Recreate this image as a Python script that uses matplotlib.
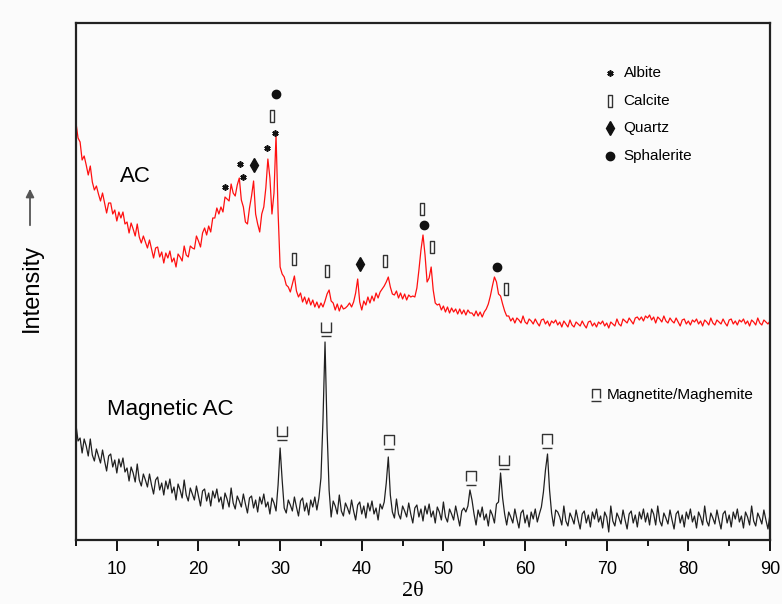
import numpy as np
import matplotlib
matplotlib.use("Agg")
import matplotlib.pyplot as plt
from matplotlib.path import Path

# ---------------- data (0.25 deg step from 5 to 90) ----------------
two_theta_start = 5.0
two_theta_step = 0.25

ac_intensity = [
    417, 402, 398, 380,   # 5
    384, 375, 365, 374,   # 6
    358, 350, 354, 346,   # 7
    339, 347, 337, 327,   # 8
    337, 337, 326, 330,   # 9
    319, 328, 322, 328,   # 10
    316, 318, 307, 317,   # 11
    311, 304, 316, 303,   # 12
    297, 304, 298, 292,   # 13
    300, 291, 282, 292,   # 14
    293, 283, 288, 277,   # 15
    287, 282, 289, 278,   # 16
    282, 273, 286, 283,   # 17
    279, 294, 285, 283,   # 18
    294, 292, 291, 304,   # 19
    299, 293, 307, 312,   # 20
    305, 314, 308, 322,   # 21
    322, 332, 326, 333,   # 22
    328, 343, 341, 339,   # 23
    356, 347, 344, 355,   # 24
    362, 340, 333, 318,   # 25
    316, 332, 344, 359,   # 26
    326, 316, 308, 326,   # 27
    333, 352, 381, 362,   # 28
    326, 347, 405, 328,   # 29
    273, 266, 263, 255,   # 30
    253, 248, 256, 264,   # 31
    249, 243, 247, 238,   # 32
    243, 236, 242, 235,   # 33
    240, 233, 238, 232,   # 34
    237, 233, 239, 246,   # 35
    250, 239, 237, 230,   # 36
    236, 229, 235, 231,   # 37
    232, 234, 237, 233,   # 38
    238, 247, 261, 238,   # 39
    230, 239, 235, 243,   # 40
    237, 244, 239, 247,   # 41
    242, 248, 251, 254,   # 42
    258, 263, 253, 246,   # 43
    245, 249, 242, 247,   # 44
    241, 246, 240, 245,   # 45
    243, 244, 243, 252,   # 46
    270, 290, 305, 285,   # 47
    258, 262, 273, 250,   # 48
    237, 235, 236, 230,   # 49
    234, 228, 233, 227,   # 50
    232, 228, 231, 226,   # 51
    231, 226, 230, 225,   # 52
    230, 227, 227, 224,   # 53
    229, 224, 228, 223,   # 54
    228, 231, 236, 244,   # 55
    254, 263, 258, 246,   # 56
    244, 236, 229, 224,   # 57
    224, 219, 222, 217,   # 58
    222, 220, 217, 224,   # 59
    218, 216, 221, 219,   # 60
    216, 221, 217, 214,   # 61
    220, 221, 216, 219,   # 62
    214, 219, 217, 220,   # 63
    215, 218, 213, 219,   # 64
    216, 213, 220, 215,   # 65
    213, 218, 216, 214,   # 66
    219, 215, 212, 218,   # 67
    219, 214, 217, 213,   # 68
    218, 216, 219, 214,   # 69
    217, 212, 218, 216,   # 70
    214, 221, 216, 214,   # 71
    221, 219, 217, 222,   # 72
    219, 216, 222, 223,   # 73
    220, 223, 219, 224,   # 74
    222, 225, 220, 223,   # 75
    217, 223, 221, 218,   # 76
    224, 219, 217, 222,   # 77
    219, 217, 222, 218,   # 78
    214, 220, 221, 216,   # 79
    219, 215, 220, 218,   # 80
    221, 216, 219, 214,   # 81
    220, 218, 215, 222,   # 82
    217, 215, 220, 218,   # 83
    216, 221, 217, 214,   # 84
    220, 221, 216, 219,   # 85
    215, 220, 218, 221,   # 86
    216, 219, 214, 220,   # 87
    218, 215, 222, 217,   # 88
    215, 220, 218, 216,   # 89
    219,                  # 90
]

mag_intensity = [
    115, 99, 102, 87,     # 5
    101, 94, 84, 101,     # 6
    85, 79, 91, 84,       # 7
    77, 90, 79, 69,       # 8
    84, 86, 73, 80,       # 9
    67, 81, 73, 82,       # 10
    68, 72, 59, 73,       # 11
    67, 58, 76, 60,       # 12
    54, 66, 60, 53,       # 13
    66, 55, 46, 60,       # 14
    63, 50, 57, 45,       # 15
    59, 51, 61, 47,       # 16
    53, 40, 56, 50,       # 17
    42, 60, 45, 39,       # 18
    52, 46, 40, 54,       # 19
    44, 34, 49, 51,       # 20
    39, 47, 34, 49,       # 21
    42, 51, 38, 43,       # 22
    31, 47, 41, 33,       # 23
    52, 37, 31, 44,       # 24
    39, 33, 46, 36,       # 25
    27, 42, 44, 32,       # 26
    40, 28, 43, 36,       # 27
    46, 33, 38, 26,       # 28
    42, 37, 29, 55,       # 29
    92, 60, 32, 27,       # 30
    40, 35, 29, 43,       # 31
    33, 24, 39, 42,       # 32
    29, 37, 25, 40,       # 33
    33, 43, 30, 42,       # 34
    62, 120, 198, 110,    # 35
    50, 23, 39, 34,       # 36
    26, 45, 29, 24,       # 37
    37, 32, 26, 40,       # 38
    29, 20, 35, 38,       # 39
    26, 34, 22, 37,       # 40
    29, 39, 26, 32,       # 41
    20, 36, 31, 38,       # 42
    57, 83, 45, 28,       # 43
    22, 41, 26, 21,       # 44
    34, 29, 23, 37,       # 45
    26, 17, 32, 35,       # 46
    23, 31, 19, 34,       # 47
    26, 36, 23, 29,       # 48
    17, 33, 28, 20,       # 49
    38, 23, 18, 31,       # 50
    26, 20, 34, 24,       # 51
    14, 29, 32, 28,       # 52
    34, 50, 40, 26,       # 53
    15, 30, 23, 33,       # 54
    20, 26, 14, 30,       # 55
    25, 17, 36, 38,       # 56
    67, 42, 26, 15,       # 57
    28, 23, 17, 31,       # 58
    21, 12, 27, 30,       # 59
    17, 25, 13, 28,       # 60
    21, 31, 18, 26,       # 61
    33, 48, 70, 86,       # 62
    50, 27, 14, 30,       # 63
    28, 23, 15, 34,       # 64
    19, 14, 27, 22,       # 65
    16, 30, 20, 11,       # 66
    26, 29, 17, 25,       # 67
    13, 28, 21, 31,       # 68
    18, 24, 12, 28,       # 69
    23, 8, 34, 19,        # 70
    14, 27, 22, 16,       # 71
    30, 20, 11, 26,       # 72
    29, 17, 25, 13,       # 73
    28, 21, 31, 18,       # 74
    27, 15, 31, 26,       # 75
    15, 34, 19, 14,       # 76
    27, 22, 16, 30,       # 77
    20, 11, 26, 29,       # 78
    17, 25, 13, 28,       # 79
    21, 31, 18, 24,       # 80
    12, 28, 23, 15,       # 81
    34, 19, 14, 27,       # 82
    22, 16, 30, 20,       # 83
    11, 26, 29, 17,       # 84
    25, 13, 28, 21,       # 85
    31, 18, 24, 12,       # 86
    28, 23, 15, 34,       # 87
    19, 14, 27, 22,       # 88
    16, 30, 20, 11,       # 89
    26,                   # 90
]

# phase marker positions (2theta, intensity)
albite_x = [23.25, 25.1, 25.5, 28.4, 29.4]
albite_y = [353, 376, 363, 392, 407]
calcite_x = [29.0, 31.7, 35.7, 42.8, 47.4, 48.6, 57.7]
calcite_y = [424, 281, 269, 279, 331, 293, 251]
quartz_x = [26.8, 39.8]
quartz_y = [375, 276]
sphalerite_x = [29.5, 47.6, 56.6]
sphalerite_y = [446, 315, 273]
magcup_x = [30.2, 35.6, 57.4]
magcup_y = [107, 211, 78]
magcap_x = [43.3, 53.4, 62.7]
magcap_y = [98, 62, 99]

legend_labels = ["Albite", "Calcite", "Quartz", "Sphalerite"]
mag_label = "Magnetite/Maghemite"
xticks = [10, 20, 30, 40, 50, 60, 70, 80, 90]

# ---------------- figure ----------------
plt.rcParams['font.family'] = ['Liberation Sans', 'DejaVu Sans']
fig = plt.figure(figsize=(7.82, 6.04), dpi=100, facecolor='#fbfbfb')
ax = fig.add_axes([76 / 782, 1 - 540 / 604, (770 - 76) / 782, (540 - 23) / 604])
ax.set_facecolor('#fbfbfb')

x_ac = two_theta_start + two_theta_step * np.arange(len(ac_intensity))
x_mag = two_theta_start + two_theta_step * np.arange(len(mag_intensity))

ax.plot(x_ac, ac_intensity, color='#ff1010', lw=0.9)
ax.plot(x_mag, mag_intensity, color='#202020', lw=0.9)

ax.set_xlim(5, 90)
ax.set_ylim(0, 517)
ax.set_yticks([])
ax.set_xticks(xticks)
ax.set_xticks(np.arange(5, 91, 5), minor=True)
ax.tick_params(axis='x', which='major', direction='out', length=8, width=1.3,
               labelsize=13, pad=7)
ax.tick_params(axis='x', which='minor', direction='out', length=4.5, width=1.3)
for s in ax.spines.values():
    s.set_linewidth(1.6)
    s.set_color('#222222')

# custom marker shapes
rect_marker = Path([(-0.3, -1), (0.3, -1), (0.3, 1), (-0.3, 1), (-0.3, -1)],
                   [Path.MOVETO, Path.LINETO, Path.LINETO, Path.LINETO, Path.CLOSEPOLY])
cup_marker = Path([(-0.4, 0.6), (-0.4, -0.25), (0.4, -0.25), (0.4, 0.6),
                   (-0.45, -0.6), (0.45, -0.6)],
                  [Path.MOVETO, Path.LINETO, Path.LINETO, Path.LINETO,
                   Path.MOVETO, Path.LINETO])
cap_marker = Path([(-0.4, -0.3), (-0.4, 0.6), (0.4, 0.6), (0.4, -0.3),
                   (-0.45, -0.6), (0.45, -0.6)],
                  [Path.MOVETO, Path.LINETO, Path.LINETO, Path.LINETO,
                   Path.MOVETO, Path.LINETO])

sty_albite = dict(marker=(6, 2, 0), ms=4.5, mew=1.2, color='#111111', ls='none')
sty_calcite = dict(marker=rect_marker, ms=9, mew=1.0, mec='#333333', mfc='white', ls='none')
sty_quartz = dict(marker='d', ms=7, color='#111111', ls='none')
sty_sphal = dict(marker='o', ms=6, color='#111111', ls='none')
sty_cup = dict(marker=cup_marker, ms=10, mew=1.0, mec='#333333', mfc='none', ls='none')
sty_cap = dict(marker=cap_marker, ms=10, mew=1.0, mec='#333333', mfc='none', ls='none')

ax.plot(albite_x, albite_y, **sty_albite)
ax.plot(calcite_x, calcite_y, **sty_calcite)
ax.plot(quartz_x, quartz_y, **sty_quartz)
ax.plot(sphalerite_x, sphalerite_y, **sty_sphal)
ax.plot(magcup_x, magcup_y, **sty_cup)
ax.plot(magcap_x, magcap_y, **sty_cap)

# legend (manual)
leg_rows = [0.903, 0.849, 0.797, 0.743]
leg_styles = [sty_albite, sty_calcite, sty_quartz, sty_sphal]
for yy, lab, st in zip(leg_rows, legend_labels, leg_styles):
    ax.plot([0.769], [yy], transform=ax.transAxes, clip_on=False, **st)
    ax.text(0.789, yy, lab, transform=ax.transAxes, fontsize=11, va='center', ha='left')
sty_cap_leg = dict(sty_cap, ms=9)
ax.plot([(596 - 76) / 694], [(540 - 395) / 517], transform=ax.transAxes, **sty_cap_leg)
ax.text((607 - 76) / 694, (540 - 395) / 517, mag_label, transform=ax.transAxes,
        fontsize=11, va='center', ha='left')

# sample labels
ax.text(10.4, 364, "AC", fontsize=16, va='center', ha='left')
ax.text(8.8, 130, "Magnetic AC", fontsize=16, va='center', ha='left')

# axis labels
fig.text(32 / 782, 1 - 288 / 604, "Intensity", rotation=90, fontsize=17,
         ha='center', va='center')
ax.annotate('', xy=(30 / 782, 1 - 186 / 604), xytext=(30 / 782, 1 - 228 / 604),
            xycoords='figure fraction', textcoords='figure fraction',
            arrowprops=dict(arrowstyle='-|>', color='#555555', lw=1.3,
                            mutation_scale=12))
fig.text(413 / 782, 1 - 592 / 604, "2θ", fontsize=16, ha='center', va='center',
         family=['Liberation Serif', 'DejaVu Serif'])

fig.savefig("out.png", dpi=100, facecolor=fig.get_facecolor())
